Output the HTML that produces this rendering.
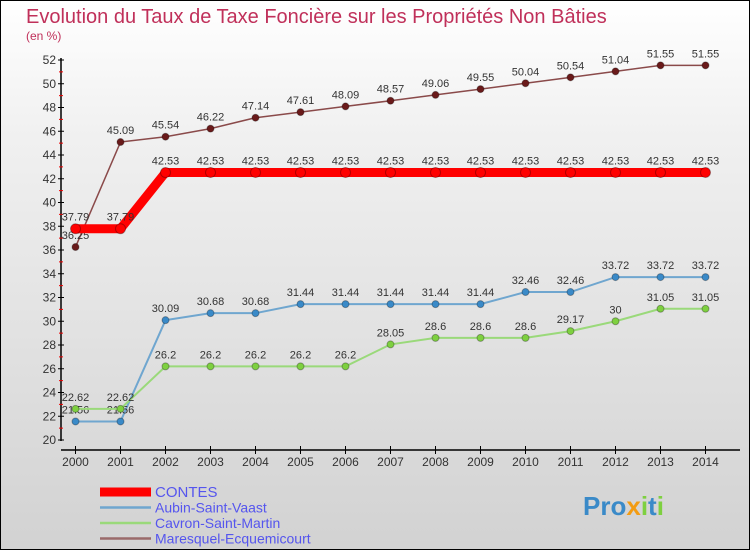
<!DOCTYPE html>
<html><head><meta charset="utf-8"><style>
body{margin:0}
#c{position:relative;width:750px;height:550px;box-sizing:border-box;border:1px solid #000;background:linear-gradient(#fff 0%,#f0f0f0 25%,#d2d2d2 100%);font-family:"Liberation Sans",sans-serif;overflow:hidden}
</style></head><body>
<div id="c">
<svg id="s" width="750" height="550" style="position:absolute;left:-1px;top:-1px">
<text x="26" y="23" font-size="20" fill="#c0305a">Evolution du Taux de Taxe Foncière sur les Propriétés Non Bâties</text>
<text x="26" y="40" font-size="12" fill="#c0305a">(en %)</text>
</svg>
</div>
<script>
const years=[2000,2001,2002,2003,2004,2005,2006,2007,2008,2009,2010,2011,2012,2013,2014];
const contes=[37.79,37.79,42.53,42.53,42.53,42.53,42.53,42.53,42.53,42.53,42.53,42.53,42.53,42.53,42.53];
const aubin=[21.56,21.56,30.09,30.68,30.68,31.44,31.44,31.44,31.44,31.44,32.46,32.46,33.72,33.72,33.72];
const cavron=[22.62,22.62,26.2,26.2,26.2,26.2,26.2,28.05,28.6,28.6,28.6,29.17,30,31.05,31.05];
const maresquel=[36.25,45.09,45.54,46.22,47.14,47.61,48.09,48.57,49.06,49.55,50.04,50.54,51.04,51.55,51.55];
const yTicks=[20,22,24,26,28,30,32,34,36,38,40,42,44,46,48,50,52];
const labels=["CONTES","Aubin-Saint-Vaast","Cavron-Saint-Martin","Maresquel-Ecquemicourt"];
const NS="http://www.w3.org/2000/svg",s=document.getElementById('s');
const X=y=>75.5+(y-2000)*45, Y=v=>440-(v-20)*11.875;
function el(t,a,p){const e=document.createElementNS(NS,t);for(const k in a)e.setAttribute(k,a[k]);(p||s).appendChild(e);return e;}
let ax=el('line',{x1:61,y1:58,x2:61,y2:441,stroke:'#000','stroke-width':1.5});


let bx=el('line',{x1:61,y1:450,x2:740,y2:450,stroke:'#000','stroke-width':1.5});


yTicks.forEach((v,i)=>{
 el('line',{x1:58,x2:64,y1:Y(v),y2:Y(v),stroke:'#000'});
 if(i<yTicks.length-1)el('line',{x1:59,x2:63,y1:Y(v+1),y2:Y(v+1),stroke:'#e00'});
 const t=el('text',{x:56,y:Y(v)+4,'text-anchor':'end','font-size':12,fill:'#333'});t.textContent=v;
 
 
});
years.forEach(y=>{
 el('line',{x1:X(y),x2:X(y),y1:446,y2:454,stroke:'#000'});
 const t=el('text',{x:X(y),y:466,'text-anchor':'middle','font-size':12,fill:'#333'});t.textContent=y;
 
 
});
function series(d,col,w,r,fill,name){
 const g=el('g',{});
 
 
 el('polyline',{points:d.map((v,i)=>X(years[i])+','+Y(v)).join(' '),fill:'none',stroke:col,'stroke-width':w},g);
 d.forEach((v,i)=>{
  const c=el('circle',{cx:X(years[i]),cy:Y(v),r:r,fill:fill,stroke:'rgba(0,0,0,0.3)'},g);
  
  
  const t=el('text',{x:X(years[i]),y:Y(v)-8,'text-anchor':'middle','font-size':11,fill:'#333'},g);t.textContent=v;
  
  
 });
}
series(aubin,'#6fa6cf',2,3.5,'#3a8ac8','series-aubin');
series(cavron,'#9ad97a',2,3.5,'#7ed040','series-cavron');
series(maresquel,'#8a4a4a',1.5,3.5,'#6a1a1a','series-maresquel');
series(contes,'#f00',9,5,'#f00','series-contes');
const cols=['#f00','#6fa6cf','#9ad97a','#9a6a6a'],ws=[9,2.5,2.5,2.5];
labels.forEach((l,i)=>{
 const y=492+i*15.5;
 const g=el('g',{});
 
 
 el('line',{x1:100,x2:151,y1:y,y2:y,stroke:cols[i],'stroke-width':ws[i]},g);
 const t=el('text',{x:155,y:y+5,'font-size':i==0?15:14,fill:'#5555ee'},g);t.textContent=l;
});
const lg=el('text',{x:583,y:515,'font-size':26,'font-weight':'bold',fill:'#3a8ac8'});


lg.innerHTML='Pro<tspan fill="#f39c12">x</tspan><tspan fill="#7ed040">i</tspan>t<tspan fill="#7ed040">i</tspan>';
</script>
</body></html>
